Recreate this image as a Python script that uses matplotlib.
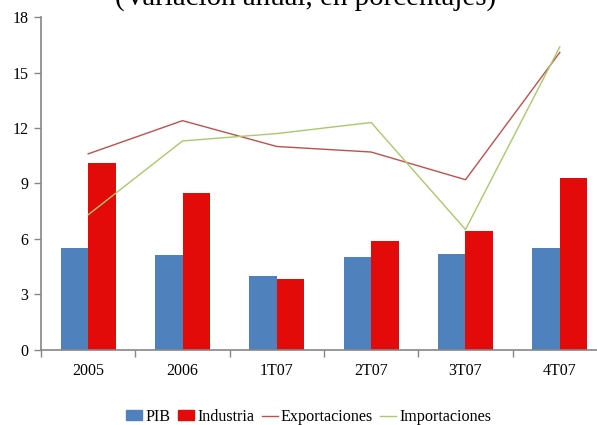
import matplotlib
matplotlib.use("Agg")
import matplotlib.pyplot as plt
import numpy as np
from matplotlib.patches import Patch
from matplotlib.lines import Line2D

categories = ["2005", "2006", "1T07", "2T07", "3T07", "4T07"]
pib = [5.5, 5.1, 4.0, 5.0, 5.2, 5.5]
industria = [10.1, 8.5, 3.8, 5.9, 6.4, 9.3]
exportaciones = [10.6, 12.4, 11.0, 10.7, 9.2, 16.1]
importaciones = [7.3, 11.3, 11.7, 12.3, 6.5, 16.4]
yticks = [0, 3, 6, 9, 12, 15, 18]
title = "(Variación anual, en porcentajes)"

plt.rcParams['font.family'] = ['Liberation Serif', 'DejaVu Serif']

W, H = 597, 425
fig = plt.figure(figsize=(W / 100, H / 100), dpi=100)
left, right = 41, 607
bottom, top = 349.5, 17.3
ax = fig.add_axes([left / W, 1 - bottom / H, (right - left) / W, (bottom - top) / H])

x = np.arange(len(categories))
bw = 0.29
c_pib = "#4F81BD"
c_ind = "#E30A0A"
c_exp = "#C0504D"
c_imp = "#A9C96A"

ax.bar(x - bw / 2, pib, width=bw, color=c_pib, zorder=2)
ax.bar(x + bw / 2, industria, width=bw, color=c_ind, zorder=2)
ax.plot(x, exportaciones, color=c_exp, lw=1.0, zorder=3)
ax.plot(x, importaciones, color=c_imp, lw=1.0, zorder=3)

ax.set_xlim(-0.5, len(categories) - 0.5)
ax.set_ylim(0, 18)
ax.set_yticks(yticks)
ax.set_yticklabels([str(v) for v in yticks], fontsize=11.5)
ax.set_xticks(x)
ax.set_xticklabels(categories, fontsize=11.5)
ax.tick_params(axis='x', length=0, pad=10)
ax.set_xticks(np.arange(len(categories) + 1) - 0.5, minor=True)
ax.tick_params(axis='x', which='minor', length=5, color="#868686", width=1)
ax.tick_params(axis='y', length=5, color="#868686", width=1, pad=4)

for s in ["top", "right"]:
    ax.spines[s].set_visible(False)
for s in ["left", "bottom"]:
    ax.spines[s].set_color("#868686")
    ax.spines[s].set_linewidth(1.2)

fig.text(306 / W, 1 - 5 / H, title, ha="center", va="baseline", fontsize=20.9)

handles = [Patch(color=c_pib), Patch(color=c_ind),
           Line2D([], [], color=c_exp, lw=1), Line2D([], [], color=c_imp, lw=1)]
labels = ["PIB", "Industria", "Exportaciones", "Importaciones"]
fig.legend(handles, labels, loc="center", bbox_to_anchor=(309 / W, 1 - 417 / H),
           ncol=4, frameon=False, fontsize=11.6, handlelength=1.0, handletextpad=0.2,
           columnspacing=0.45, handleheight=0.55, borderpad=0)

fig.savefig("out.png", dpi=100)
